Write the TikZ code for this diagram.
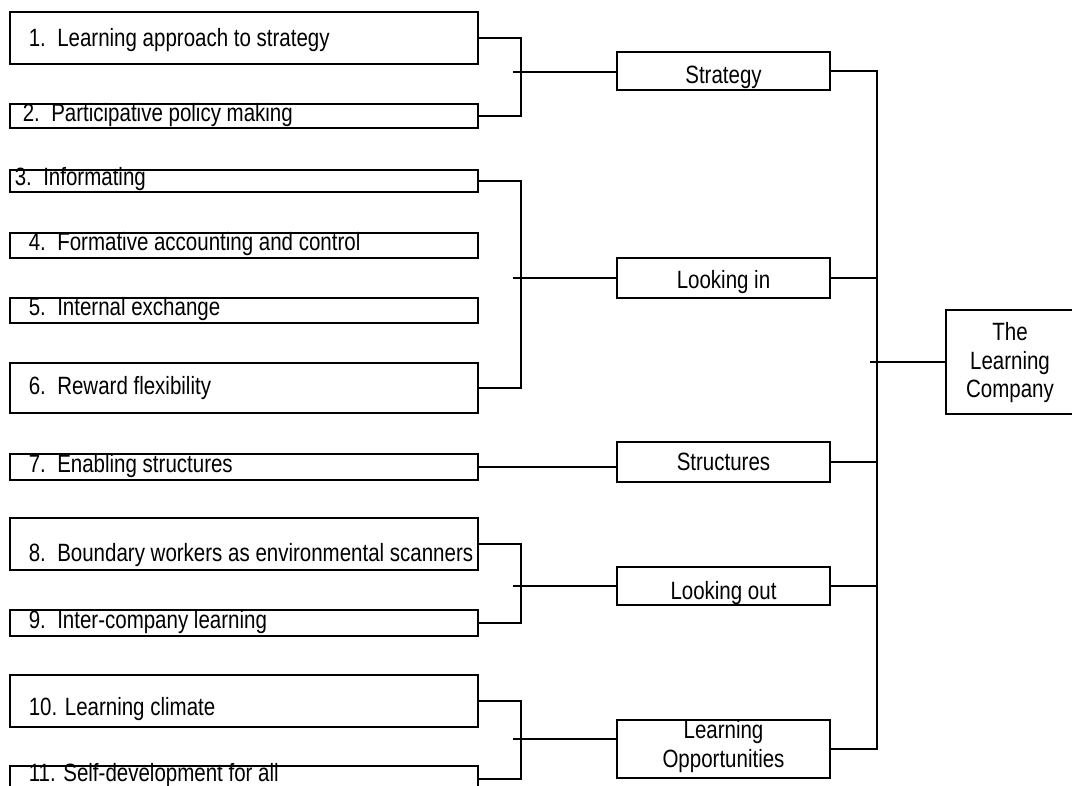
\documentclass[tikz,border=0pt]{standalone}
\usepackage{fontspec}
\setmainfont{Liberation Sans}[FakeStretch=0.82]
\usetikzlibrary{positioning}

\begin{document}
\begin{tikzpicture}[
        x = 1pt, y = -1pt, % pixel grid, y runs down
        line width = 1.6pt, % line style
        font = \fontsize{25}{28.5}\selectfont,
        item/.style = {draw, rectangle, minimum width = 468pt, inner sep = 0pt},
        group/.style = {draw, rectangle, minimum width = 213pt, inner sep = 0pt},
        itemtext/.style = {anchor = west, inner sep = 0pt},
        grouptext/.style = {inner sep = 0pt, align = center}
        ]

  \useasboundingbox (0,0) rectangle (1072,786);
  \clip (0,0) rectangle (1072,786);

  % left column
  \node[item, minimum height = 52pt] (b1) at (244,38) {};
  \node[item, minimum height = 24pt] (b2) at (244,116) {};
  \node[item, minimum height = 22pt] (b3) at (244,181) {};
  \node[item, minimum height = 25pt] (b4) at (244,245.5) {};
  \node[item, minimum height = 25pt] (b5) at (244,310.5) {};
  \node[item, minimum height = 50pt] (b6) at (244,388) {};
  \node[item, minimum height = 26pt] (b7) at (244,467) {};
  \node[item, minimum height = 52pt] (b8) at (244,544) {};
  \node[item, minimum height = 26pt] (b9) at (244,623) {};
  \node[item, minimum height = 52pt] (b10) at (244,701) {};
  \node[item, minimum height = 26pt] (b11) at (244,779) {};

  \node[itemtext] (t1) at (28,40) {1.~~Learning approach to strategy};
  \node[itemtext] (t2) at (22,115) {2.~~Participative policy making};
  \node[itemtext] (t3) at (14,179) {3.~~Informating};
  \node[itemtext] (t4) at (28,244) {4.~~Formative accounting and control};
  \node[itemtext] (t5) at (28,309) {5.~~Internal exchange};
  \node[itemtext] (t6) at (28,388) {6.~~Reward flexibility};
  \node[itemtext] (t7) at (28,466) {7.~~Enabling structures};
  \node[itemtext] (t8) at (28,555) {8.~~Boundary workers as environmental scanners};
  \node[itemtext] (t9) at (28,622) {9.~~Inter-company learning};
  \node[itemtext] (t10) at (28,709) {10. Learning climate};
  \node[itemtext] (t11) at (28,775) {11. Self-development for all};

  % middle column
  \node[group, minimum height = 38pt] (strat) at (723.5,71) {};
  \node[group, minimum height = 40pt] (lin) at (723.5,278) {};
  \node[group, minimum height = 40pt] (struc) at (723.5,462) {};
  \node[group, minimum height = 38pt] (lout) at (723.5,586) {};
  \node[group, minimum height = 58pt] (lopp) at (723.5,749) {};

  \node[grouptext] (ts) at (723.5,77) {Strategy};
  \node[grouptext] (tli) at (723.5,282) {Looking in};
  \node[grouptext] (tst) at (723.5,462) {Structures};
  \node[grouptext] (tlo) at (723.5,593) {Looking out};
  \node[grouptext] (tlp) at (723.5,746.5) {Learning\\Opportunities};

  % right
  \node[draw, rectangle, minimum width = 148pt, minimum height = 104pt] (tlc) at (1020,362) {};
  \node[grouptext] (ttlc) at (1010,363) {The\\Learning\\Company};

  % brackets on the left
  \coordinate (barA) at (521,72);
  \coordinate (barB) at (521,278);
  \coordinate (barC) at (521,586);
  \coordinate (barD) at (521,739);
  \coordinate (tickA) at (513,72);
  \coordinate (tickB) at (513,278);
  \coordinate (tickC) at (513,586);
  \coordinate (tickD) at (513,739);

  \draw (b1.east) -| (barA) |- (b2.east);
  \draw (b3.east) -| (barB) |- (b6.east);
  \draw (b8.east) -| (barC) |- (b9.east);
  \draw (b10.east) -| (barD) |- (b11.east);

  \draw (tickA) -- (tickA -| strat.west);
  \draw (tickB) -- (tickB -| lin.west);
  \draw (tickC) -- (tickC -| lout.west);
  \draw (tickD) -- (tickD -| lopp.west);
  \draw (b7.east) -- (b7.east -| struc.west);

  % bus on the right
  \coordinate (busTop) at (877,71);
  \coordinate (busBot) at (877,749);
  \coordinate (tickT) at (870,362);

  \draw (strat.east) -- (busTop) -- (busBot) -- (lopp.east);
  \draw (lin.east) -- (lin.east -| busTop);
  \draw (struc.east) -- (struc.east -| busTop);
  \draw (lout.east) -- (lout.east -| busTop);
  \draw (tickT) -- (tlc.west);

\end{tikzpicture}
\end{document}
